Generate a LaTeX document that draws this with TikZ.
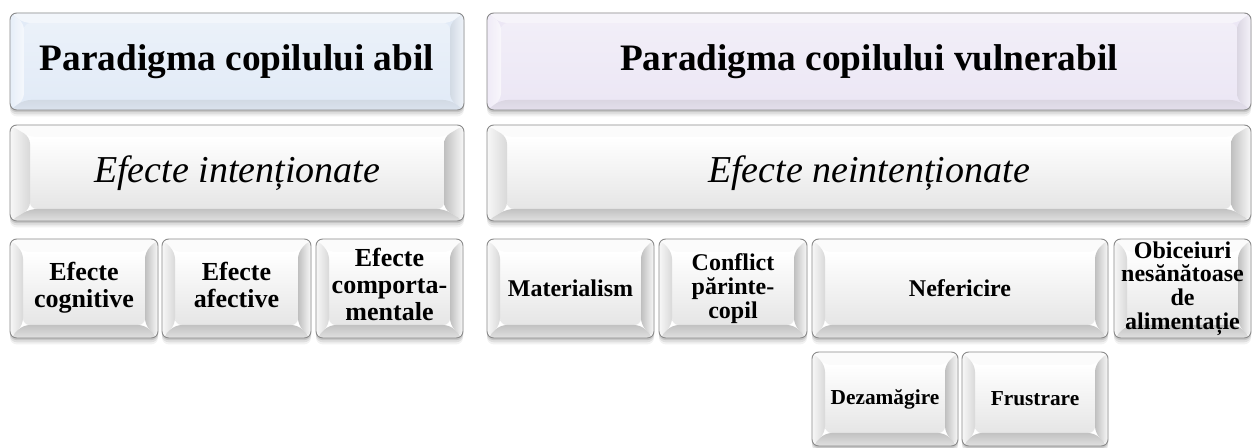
\documentclass[tikz,border=0pt]{standalone}
\usepackage{fontspec}
\setmainfont{Liberation Serif}
\usetikzlibrary{calc}
\definecolor{rim}{HTML}{8A8A8A}
\definecolor{tintA}{HTML}{E2EBF7}
\definecolor{tintB}{HTML}{ECE7F5}
\newcommand\kcoords{%
  \coordinate (@A) at (path picture bounding box.north west);
  \coordinate (@B) at (path picture bounding box.north east);
  \coordinate (@C) at (path picture bounding box.south east);
  \coordinate (@D) at (path picture bounding box.south west);
  \coordinate (@a) at ($(@A)+(\khin,-\kvin)$);
  \coordinate (@b) at ($(@B)+(-\khin,-\kvin)$);
  \coordinate (@c) at ($(@C)+(-\khin,\kvin)$);
  \coordinate (@d) at ($(@D)+(\khin,\kvin)$);
}
\newcommand\kbox[7]{%
  \node[#6, minimum width={(#4-#2)*0.75pt}, minimum height={(#5-#3)*0.75pt}]
    (#1) at ({(#2+#4)/2},{-(#3+#5)/2}) {#7};
}
\tikzset{
  hin/.store in=\khin, vin/.store in=\kvin, hin=13, vin=13,
  keybase/.style={rectangle, rounded corners=5pt, draw=rim, line width=0.7pt,
    inner sep=0pt, align=center,
    preaction={fill=black, fill opacity=0.11, path picture={}, transform canvas={yshift=-1.6pt}},
    preaction={fill=black, fill opacity=0.08, path picture={}, transform canvas={yshift=-3.2pt}},
    preaction={fill=black, fill opacity=0.05, path picture={}, transform canvas={yshift=-4.8pt}}},
  keywhite/.style={keybase, fill=white, path picture={\kcoords
    \shade[top color=white, bottom color=white!80!gray] (@a) rectangle (@c);
    \fill[white!97!gray] (@A)--(@B)--(@b)--(@a)--cycle;
    \shade[left color=white!94!gray, right color=white!70!gray] (@A)--(@a)--(@d)--(@D)--cycle;
    \shade[left color=white!50!gray, right color=white!95!gray] (@B)--(@C)--(@c)--(@b)--cycle;
    \shade[top color=white!52!gray, bottom color=white!76!gray] (@D)--(@d)--(@c)--(@C)--cycle;
  }},
  keytint/.style={keybase, fill=#1, path picture={\kcoords
    \shade[top color=#1!70!white, bottom color=#1] (@a) rectangle (@c);
    \fill[#1!45!white] (@A)--(@B)--(@b)--(@a)--cycle;
    \shade[left color=#1!85!white, right color=#1!35!white] (@A)--(@a)--(@d)--(@D)--cycle;
    \shade[left color=#1!84!gray, right color=#1!55!white] (@B)--(@C)--(@c)--(@b)--cycle;
    \shade[top color=#1!84!gray, bottom color=#1!92!gray] (@D)--(@d)--(@c)--(@C)--cycle;
  }},
  ftitle/.style={font=\fontsize{28}{30}\selectfont\bfseries},
  fital/.style={font=\fontsize{28.5}{30}\selectfont\itshape},
  fsmallL/.style={font=\fontsize{19.5}{20.3}\selectfont\bfseries},
  fsmallR/.style={font=\fontsize{18}{17.8}\selectfont\bfseries},
  fsub/.style={font=\fontsize{16}{17}\selectfont\bfseries},
}
\begin{document}
\begin{tikzpicture}[x=0.75pt, y=0.75pt]
\path[use as bounding box, fill=white] (0,0) rectangle (1253,-448);
% row 1
\kbox{pabil}{10}{13}{464}{110}{keytint=tintA, hin=14, vin=10, ftitle}{Paradigma copilului abil}
\kbox{pvuln}{487}{13}{1251}{110}{keytint=tintB, hin=14, vin=10, ftitle}{Paradigma copilului vulnerabil}
% row 2
\kbox{eint}{10}{125}{464}{221}{keywhite, hin=20, vin=12, fital}{Efecte intenționate}
\kbox{eneint}{487}{125}{1251}{221}{keywhite, hin=20, vin=12, fital}{Efecte neintenționate}
% row 3 left
\kbox{ecog}{10}{239}{158}{338}{keywhite, fsmallL}{Efecte\\cognitive\strut}
\kbox{eafe}{162}{239}{311}{338}{keywhite, fsmallL}{Efecte\\afective\strut}
\kbox{ecomp}{316}{239}{463}{338}{keywhite, fsmallL}{Efecte\\comporta-\\mentale\strut}
% row 3 right
\kbox{mat}{487}{239}{654}{338}{keywhite, fsmallR}{Materialism}
\kbox{conf}{659}{239}{807}{338}{keywhite, fsmallR}{Conflict\\părinte-\\copil}
\kbox{nef}{812}{239}{1108}{338}{keywhite, fsmallR}{Nefericire}
\kbox{obic}{1114}{239}{1251}{338}{keywhite, fsmallR}{Obiceiuri\\nesănătoase\\de\\alimentație}
% row 4
\kbox{dez}{812}{352}{958}{446}{keywhite, fsub}{Dezamăgire}
\kbox{fru}{962}{352}{1108}{446}{keywhite, fsub}{Frustrare}
\end{tikzpicture}
\end{document}
